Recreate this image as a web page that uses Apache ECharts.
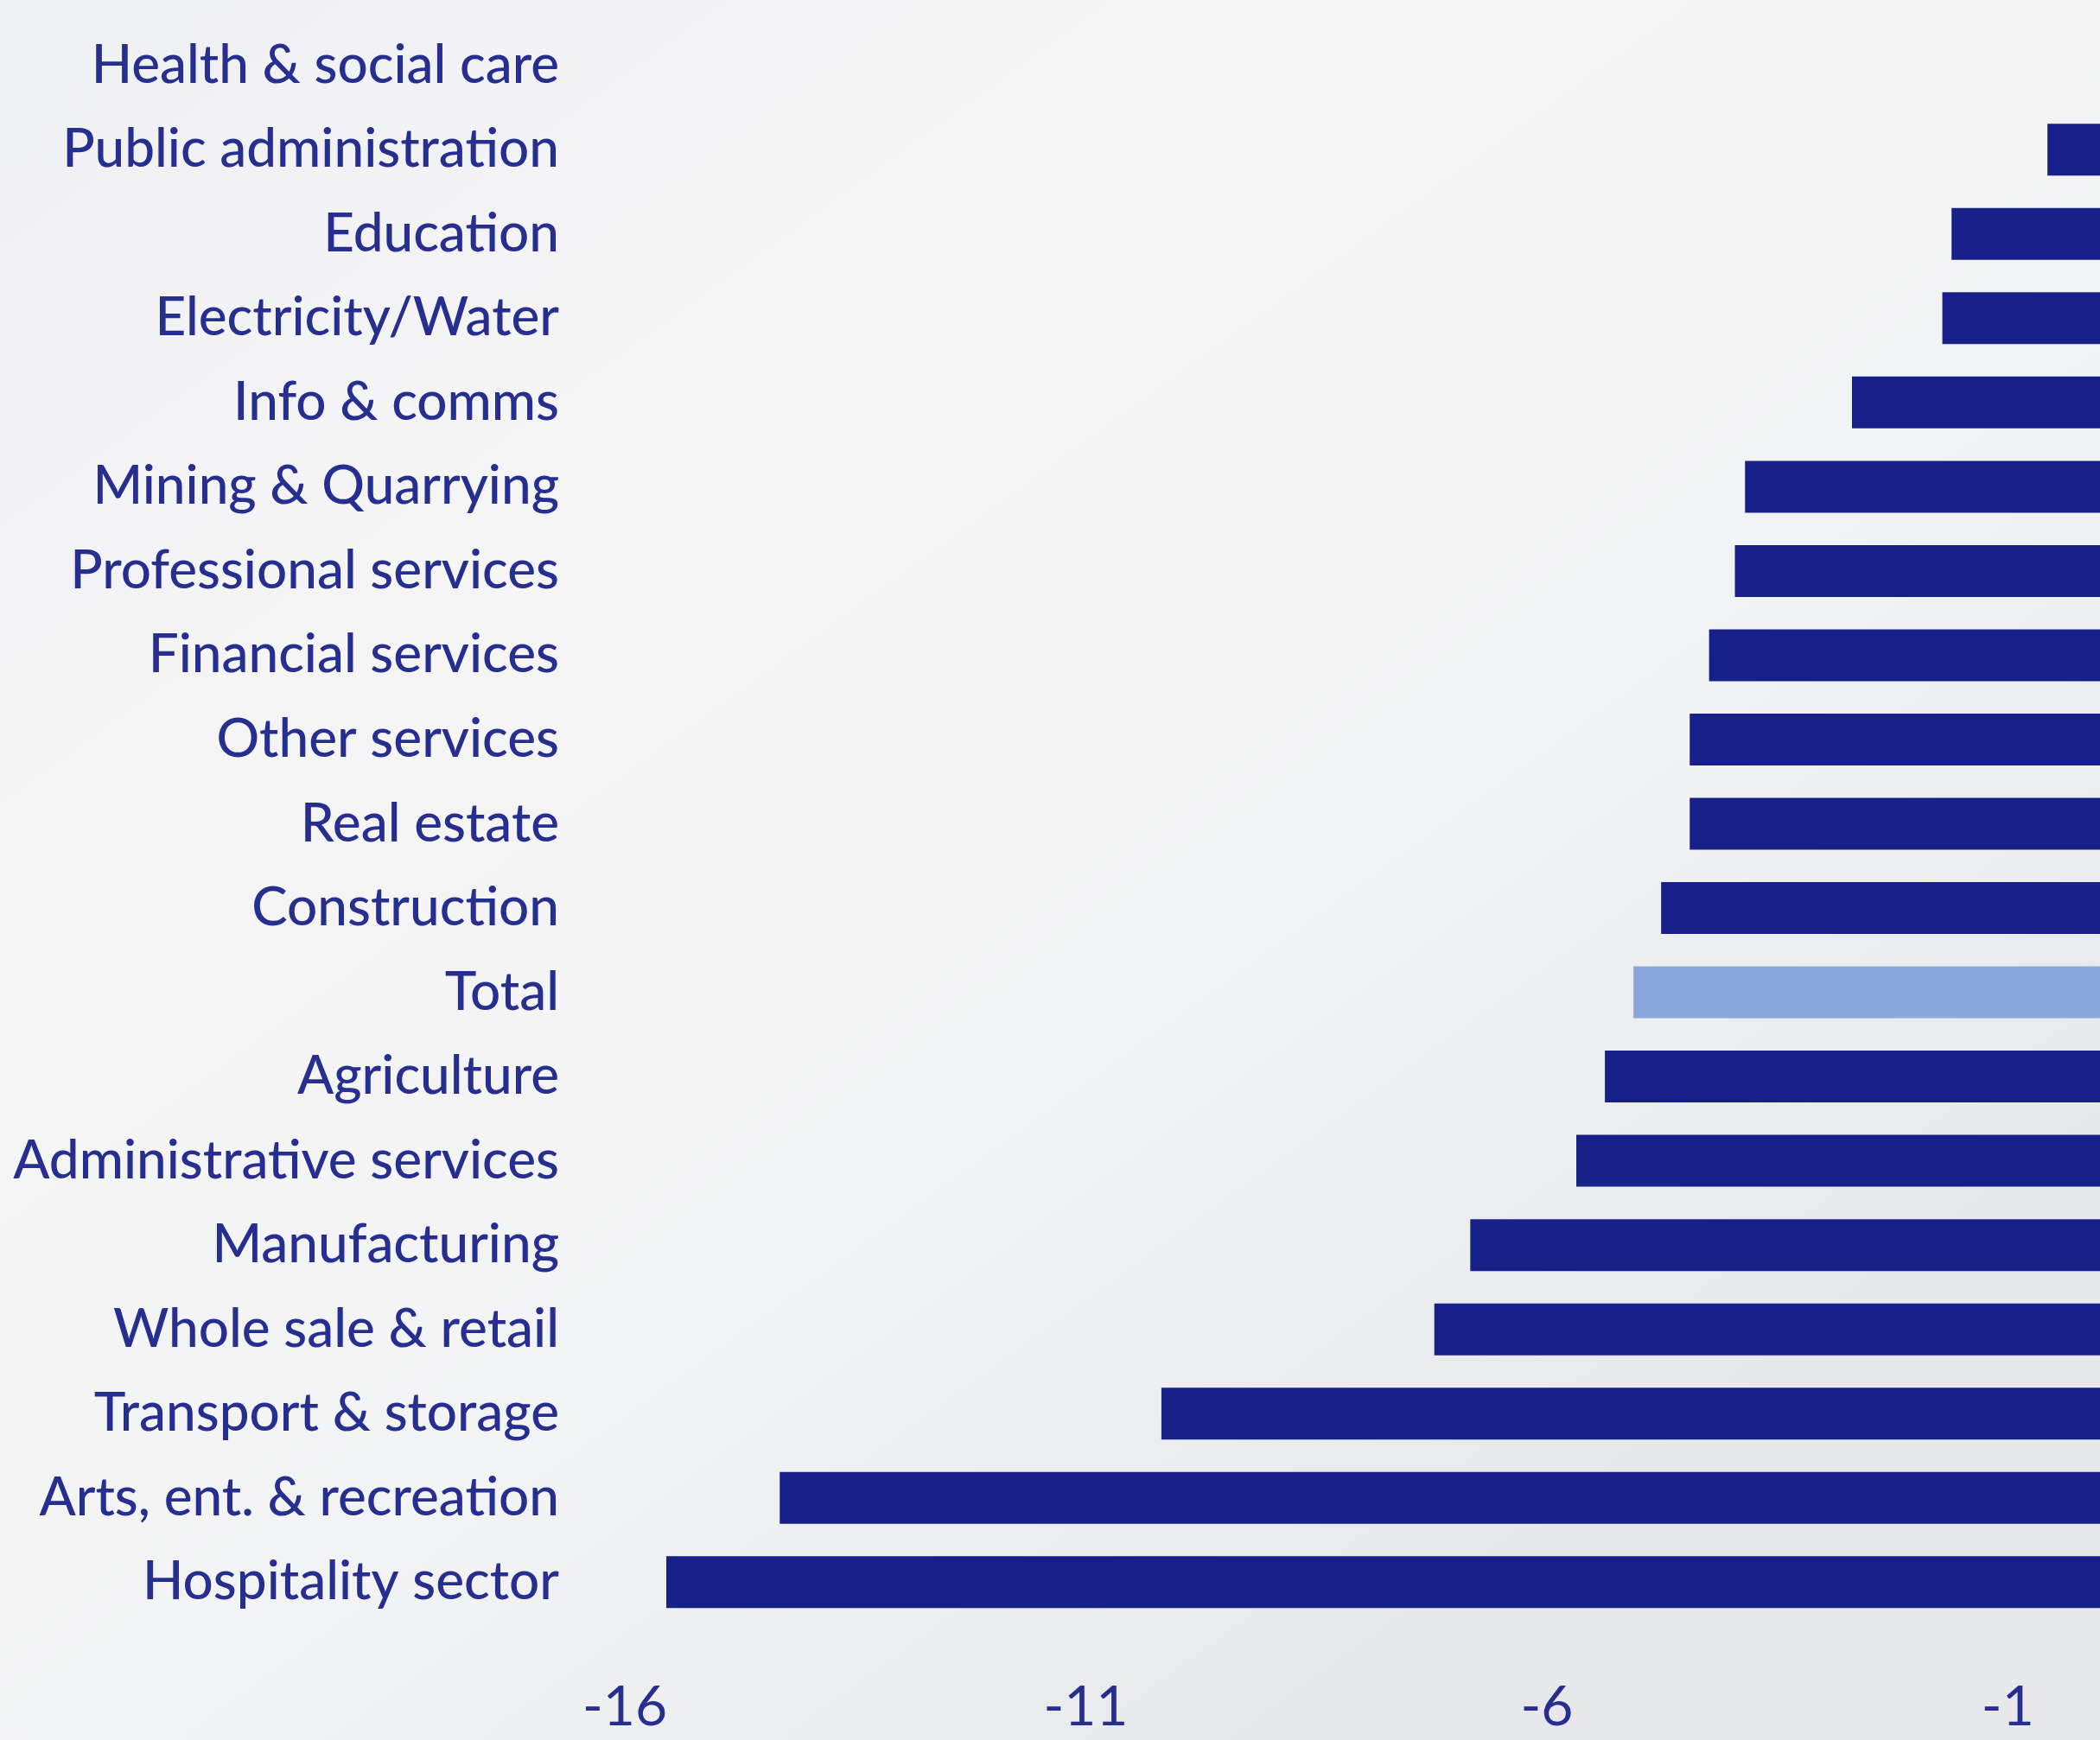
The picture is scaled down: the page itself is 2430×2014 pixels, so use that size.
<!DOCTYPE html>
<html>
<head>
<meta charset="utf-8">
<script src="https://cdn.jsdelivr.net/npm/echarts@6/dist/echarts.min.js"></script>
<style>
html,body{margin:0;padding:0;width:2430px;height:2014px;overflow:hidden;}
#c{width:2430px;height:2014px;}
</style>
</head>
<body>
<div id="c"></div>
<script>
const categories = [
  'Health & social care','Public administration','Education','Electricity/Water',
  'Info & comms','Mining & Quarrying','Professional services','Financial services',
  'Other services','Real estate','Construction','Total','Agriculture',
  'Administrative services','Manufacturing','Whole sale & retail',
  'Transport & storage','Arts, ent. & recreation','Hospitality sector'
];
const values = [
  0, -0.57, -1.61, -1.71,
  -2.69, -3.85, -3.96, -4.24,
  -4.45, -4.45, -4.76, -5.06, -5.37,
  -5.68, -6.83, -7.22,
  -10.18, -14.32, -15.55
];
const tickLabels = [-16, -11, -6, -1];
const highlightCategory = 'Total';

const chart = echarts.init(document.getElementById('c'), null, {renderer:'canvas'});
const textColor = '#262f8f';
chart.setOption({
  backgroundColor: {
    type: 'linear', x: 0, y: 0, x2: 0.6, y2: 1,
    colorStops: [
      {offset: 0, color: '#eff0f3'},
      {offset: 0.35, color: '#f5f5f6'},
      {offset: 0.7, color: '#f2f3f4'},
      {offset: 1, color: '#e6e8ec'}
    ]
  },
  animation: false,
  grid: {left: 723, top: 27, width: 1712, height: 1853, containLabel: false},
  xAxis: {
    type: 'value', min: -16, max: 0,
    splitLine: {show: false},
    axisLine: {show: false},
    axisTick: {show: false},
    axisLabel: {
      customValues: tickLabels,
      color: textColor, fontFamily: 'Lato', fontSize: 64, margin: 64
    }
  },
  yAxis: {
    type: 'category', inverse: true, data: categories,
    axisLine: {show: false},
    axisTick: {show: false},
    splitLine: {show: false},
    axisLabel: {
      color: textColor, fontFamily: 'Lato', fontSize: 62, fontWeight: 500, margin: 76
    }
  },
  series: [{
    type: 'bar',
    data: values,
    barWidth: 60,
    itemStyle: {
      color: function (p) { return p.name === highlightCategory ? '#8aa7db' : '#162088'; }
    }
  }]
});
</script>
</body>
</html>
